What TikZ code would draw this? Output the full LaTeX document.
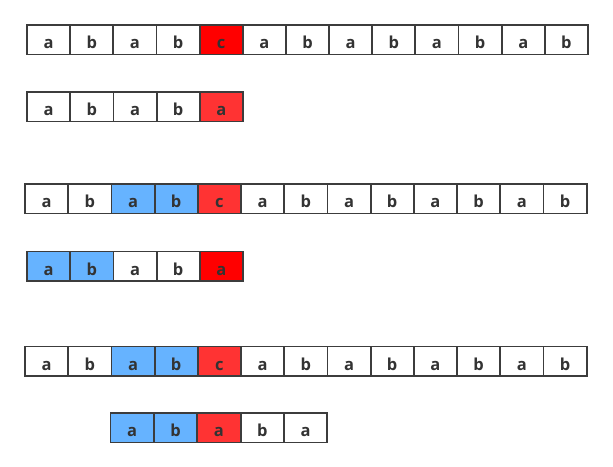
\documentclass[tikz,border=0pt]{standalone}
\usepackage{fontspec}
\setmainfont{Open Sans}
\definecolor{redA}{HTML}{FF0000}
\definecolor{redB}{HTML}{FF3333}
\definecolor{blueA}{HTML}{66B3FF}
\definecolor{edge}{HTML}{3C3C3C}
\definecolor{txt}{HTML}{333333}
\begin{document}
\begin{tikzpicture}[x=1pt,y=-1pt,
  cell/.style={draw=edge,line width=1.8pt,minimum width=43.2pt,minimum height=29.5pt,
    inner sep=0pt,outer sep=0pt,anchor=north west,text=txt,
    font=\fontsize{16.5}{16.5}\selectfont\bfseries,text height=17.6pt,text depth=0pt}]
\useasboundingbox (0,0) rectangle (613,466);
% row 1
\foreach \t/\f [count=\i from 0] in {a/white,b/white,a/white,b/white,c/redA,a/white,b/white,a/white,b/white,a/white,b/white,a/white,b/white}
  \node[cell,fill=\f] (ra\i) at (27+43.15*\i,25) {\t};
% row 2
\foreach \t/\f [count=\i from 0] in {a/white,b/white,a/white,b/white,a/redB}
  \node[cell,fill=\f] (rb\i) at (27+43.2*\i,92) {\t};
% row 3
\foreach \t/\f [count=\i from 0] in {a/white,b/white,a/blueA,b/blueA,c/redB,a/white,b/white,a/white,b/white,a/white,b/white,a/white,b/white}
  \node[cell,fill=\f] (rc\i) at (25+43.2*\i,184) {\t};
% row 4
\foreach \t/\f [count=\i from 0] in {a/blueA,b/blueA,a/white,b/white,a/redA}
  \node[cell,fill=\f] (rd\i) at (27+43.2*\i,251.5) {\t};
% row 5
\foreach \t/\f [count=\i from 0] in {a/white,b/white,a/blueA,b/blueA,c/redB,a/white,b/white,a/white,b/white,a/white,b/white,a/white,b/white}
  \node[cell,fill=\f] (re\i) at (25+43.2*\i,346.5) {\t};
% row 6
\foreach \t/\f [count=\i from 0] in {a/blueA,b/blueA,a/redB,b/white,a/white}
  \node[cell,fill=\f] (rf\i) at (110.5+43.4*\i,413) {\t};
\end{tikzpicture}
\end{document}
